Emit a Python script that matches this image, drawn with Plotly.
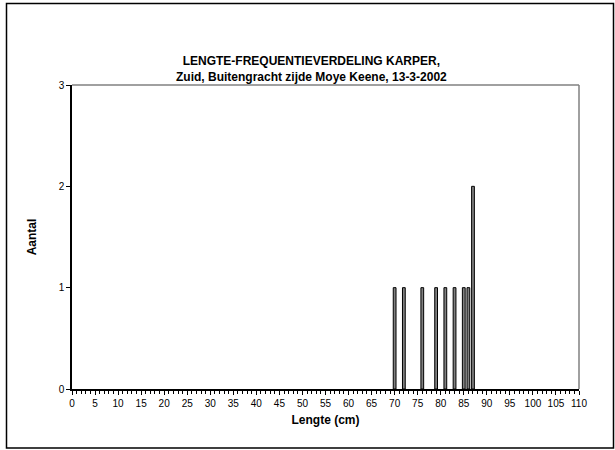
import plotly.graph_objects as go

lengths = [70, 72, 76, 79, 81, 83, 85, 86, 87]
counts = [1, 1, 1, 1, 1, 1, 1, 1, 2]
x_ticks = list(range(0, 111, 5))
y_ticks = [0, 1, 2, 3]

title_text = "<b>LENGTE-FREQUENTIEVERDELING KARPER,<br>Zuid, Buitengracht zijde Moye Keene, 13-3-2002</b>"

W, H = 615, 450
L, R, T, B = 72, 36, 85, 61
pw, ph = W - L - R, H - T - B

def px(x):
    return (x - L) / pw

def py(y):
    return (H - B - y) / ph

font_family = "Liberation Sans, Arial, sans-serif"

fig = go.Figure()
fig.add_trace(go.Bar(
    x=lengths, y=counts, width=0.6,
    marker=dict(color="#808080", line=dict(color="black", width=1)),
    showlegend=False,
))

fig.update_layout(
    width=W, height=H,
    margin=dict(l=L, r=R, t=T, b=B),
    paper_bgcolor="white", plot_bgcolor="white",
    font=dict(family=font_family, size=10, color="black"),
    xaxis=dict(
        range=[0, 110], tickvals=x_ticks, ticktext=[str(v) for v in x_ticks],
        ticks="outside", ticklen=4, tickwidth=1, tickcolor="black",
        minor=dict(dtick=1, ticks="outside", ticklen=3, tickcolor="black", tickwidth=1),
        showline=True, linecolor="black", linewidth=1.5,
        showgrid=False, zeroline=False,
        title=dict(text="<b>Lengte (cm)</b>", font=dict(size=12), standoff=8),
        tickfont=dict(size=10),
    ),
    yaxis=dict(
        range=[0, 3], tickvals=y_ticks,
        ticks="outside", ticklen=4, tickwidth=1, tickcolor="black",
        showline=True, linecolor="black", linewidth=1.5,
        showgrid=False, zeroline=False,
        title=dict(text="<b>Aantal</b>", font=dict(size=12), standoff=19),
        tickfont=dict(size=10),
    ),
    shapes=[
        dict(type="line", xref="paper", yref="paper", x0=0, x1=1, y0=1, y1=1,
             line=dict(color="#808080", width=1.5)),
        dict(type="line", xref="paper", yref="paper", x0=1, x1=1, y0=0, y1=1,
             line=dict(color="#808080", width=1.5)),
        dict(type="rect", xref="paper", yref="paper",
             x0=px(6.5), x1=px(613.5), y0=py(448), y1=py(3.5),
             line=dict(color="black", width=1.5), layer="below"),
    ],
    annotations=[
        dict(text=title_text, xref="paper", yref="paper",
             x=px(311), y=py(69), xanchor="center", yanchor="middle",
             showarrow=False, font=dict(size=12, family=font_family), align="center"),
    ],
)

fig.write_html("out.html", config={"displayModeBar": False},
               post_script="document.body.style.margin='0';document.body.style.padding='0';")
